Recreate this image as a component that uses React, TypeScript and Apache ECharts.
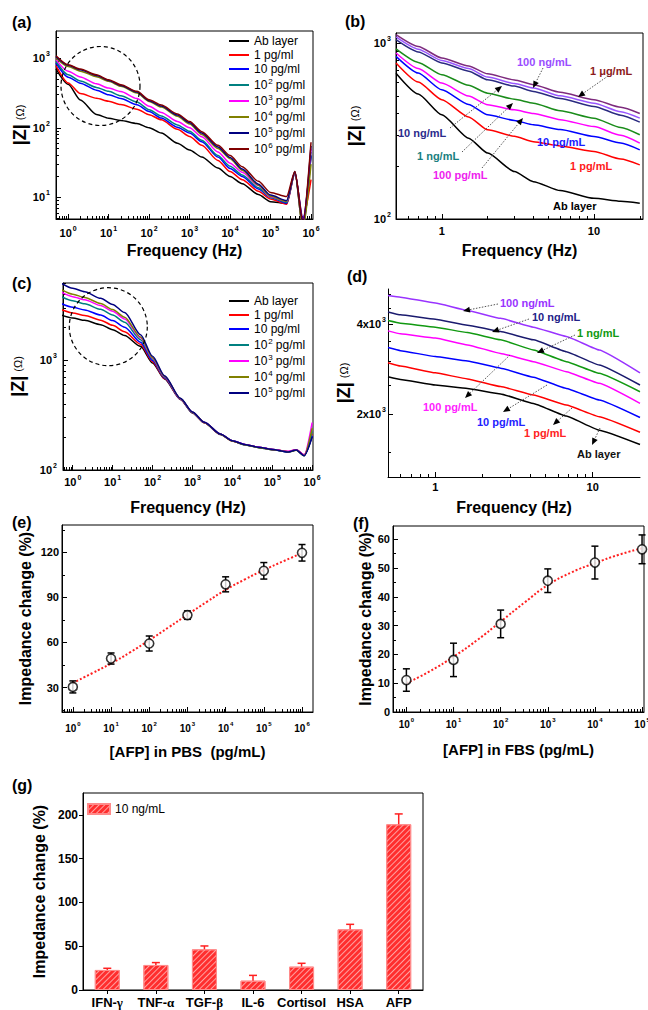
import React, { useEffect, useRef } from 'react';
import * as echarts from 'echarts';

const FONT = '"Liberation Sans", Arial, Helvetica, sans-serif';
const SERIF = '"Liberation Serif", "Times New Roman", serif';

// ---------------- (a) ----------------
const FREQ_A = [0.5, 1, 2, 5, 10, 20, 50, 100, 200, 500, 1e3, 2e3, 5e3, 1e4, 2e4, 5e4, 1e5, 2.5e5, 4e5, 6.3e5, 1e6];
const A_NAMES = ['Ab layer', '1 pg/ml', '10 pg/ml', '10^2 pg/ml', '10^3 pg/ml', '10^4 pg/ml', '10^5 pg/ml', '10^6 pg/ml'];
const A_AB = [700, 420, 250, 155, 137, 127, 115, 100, 84, 60, 48, 38, 26.5, 20, 15.7, 11, 8.7, 8.2, 23.5, 3.5, 40];
const A_1PG = [780, 440, 310, 265, 240, 215, 185, 154, 130, 95, 75, 56, 34, 23.5, 18, 12.3, 9.5, 8, 22, 5, 18];
const A_10PG = [850, 533, 437, 347, 297, 263, 214, 171, 138, 102, 84, 63, 38, 26, 20, 13.2, 10, 8.3, 22, 5, 40];
const A_1E2PG = [900, 576, 468, 380, 333, 288, 234, 181, 148, 110, 89, 66, 40, 28, 21, 13.8, 10, 8.5, 23, 4, 45];
const A_1E3PG = [950, 646, 537, 427, 371, 331, 263, 203, 166, 123, 100, 74, 45, 31, 23, 14.8, 10.2, 8.8, 23, 4, 50];
const A_1E4PG = [1000, 760, 650, 540, 465, 395, 315, 238, 198, 146, 113, 80, 50.5, 36, 24.5, 15, 10.4, 8.8, 22.5, 3.5, 30];
const A_1E5PG = [1050, 790, 680, 565, 478, 405, 325, 245, 205, 152, 118, 84, 53, 37.5, 25.5, 15.5, 10.8, 9, 23, 4.2, 55];
const A_1E6PG = [1080, 802, 695, 576, 488, 415, 333, 252, 212, 158, 123, 88, 56, 40, 27.5, 17, 11.8, 10.3, 23.5, 4.5, 62];

// ---------------- (b) ----------------
const FREQ_B = [0.5, 0.7, 1, 1.5, 2, 3, 4, 6, 10, 15, 20];
const B_NAMES = ['Ab layer', '1 pg/mL', '10 pg/mL', '100 pg/mL', '1 ng/mL', '10 ng/mL', '100 ng/mL', '1 μg/mL'];
const B_AB = [674, 513, 391, 288, 237, 186, 163, 145, 131, 126, 123];
const B_1PG = [770, 600, 476, 380, 321, 295, 275, 260, 242, 219, 203];
const B_10PG = [840, 675, 542, 447, 391, 363, 343, 322, 294, 270, 247];
const B_100PG = [877, 716, 592, 500, 446, 417, 398, 367, 335, 299, 270];
const B_1NG = [925, 776, 661, 575, 519, 479, 455, 412, 374, 331, 301];
const B_10NG = [1044, 890, 770, 692, 618, 569, 531, 484, 436, 389, 355];
const B_100NG = [1082, 922, 796, 716, 640, 589, 555, 501, 455, 407, 374];
const B_1UG = [1115, 955, 822, 741, 668, 617, 580, 525, 476, 431, 398];

// ---------------- (c) ----------------
const FREQ_C = [0.5, 1, 2, 5, 10, 20, 50, 100, 200, 500, 1e3, 2e3, 5e3, 1e4, 2e4, 5e4, 1e5, 2.5e5, 4e5, 6.3e5, 1e6];
const C_AB = [2600, 2430, 2310, 2110, 1900, 1680, 1340, 946, 676, 440, 331, 269, 211, 184, 171, 160, 154, 147, 153, 136, 204];
const C_1PG = [2910, 2700, 2560, 2320, 2080, 1820, 1400, 968, 684, 442, 333, 270, 212, 184, 171, 160, 154, 147, 153, 137, 215];
const C_10PG = [3300, 3040, 2870, 2580, 2300, 2000, 1460, 995, 693, 444, 334, 271, 212, 185, 171, 160, 154, 146, 152, 136, 205];
const C_1E2PG = [3830, 3490, 3270, 2910, 2580, 2220, 1540, 1026, 703, 446, 335, 272, 213, 185, 170, 159, 153, 146, 152, 135, 225];
const C_1E3PG = [4210, 3800, 3560, 3150, 2790, 2380, 1600, 1045, 711, 447, 336, 272, 213, 185, 171, 160, 154, 148, 153, 137, 270];
const C_1E4PG = [4440, 4000, 3730, 3290, 2900, 2470, 1630, 1057, 714, 448, 336, 271, 212, 184, 170, 159, 153, 146, 151, 135, 240];
const C_1E5PG = [5070, 4530, 4210, 3670, 3230, 2720, 1710, 1087, 724, 450, 338, 272, 213, 185, 171, 160, 154, 146, 152, 135, 200];

// ---------------- (d) ----------------
const FREQ_D = [0.5, 0.6, 1, 1.6, 2.6, 4.2, 6.8, 11, 20];
const D_NAMES = ['Ab layer', '1 pg/mL', '10 pg/mL', '100 pg/mL', '1 ng/mL', '10 ng/mL', '100 ng/mL'];
const D_AB = [2670, 2615, 2505, 2440, 2340, 2177, 1975, 1774, 1590];
const D_1PG = [2970, 2895, 2750, 2625, 2475, 2320, 2150, 1965, 1745];
const D_10PG = [3335, 3258, 3113, 3010, 2850, 2660, 2440, 2235, 1955];
const D_100PG = [3790, 3705, 3590, 3405, 3190, 2995, 2775, 2537, 2177];
const D_1NG = [4100, 4020, 3900, 3740, 3540, 3275, 2995, 2740, 2380];
const D_10NG = [4380, 4285, 4140, 3960, 3770, 3540, 3233, 2920, 2505];
const D_100NG = [4970, 4905, 4688, 4430, 4170, 3900, 3630, 3275, 2750];

// ---------------- (e) ----------------
const CONC_E = [1, 10, 100, 1e3, 1e4, 1e5, 1e6];
const E_MEAN = [30.4, 49.3, 59.3, 78.2, 98.7, 107.7, 119.7];
const E_ERR = [4, 3.7, 5, 2.8, 5, 5.5, 5.5];
const FIT_E_CONC = [1, 3.2, 10, 32, 100, 320, 1e3, 3.2e3, 1e4, 3.2e4, 1e5, 3.2e5, 1e6];
const FIT_E_VAL = [33, 39.5, 46, 53.5, 61.5, 70, 78.5, 87, 95, 102, 108.2, 114, 119.5];

// ---------------- (f) ----------------
const CONC_F = [1, 10, 100, 1e3, 1e4, 1e5];
const F_MEAN = [11.1, 18.1, 30.6, 45.6, 51.9, 56.5];
const F_ERR = [3.9, 5.8, 4.8, 4.1, 5.7, 5];
const FIT_F_CONC = [1, 3.2, 10, 32, 100, 320, 1e3, 3.2e3, 1e4, 3.2e4, 1e5];
const FIT_F_VAL = [10, 14.2, 19.2, 25, 31.4, 38, 44.1, 48.5, 51.7, 54.6, 56.9];

// ---------------- (g) ----------------
const G_CATS = ['IFN-γ', 'TNF-α', 'TGF-β', 'IL-6', 'Cortisol', 'HSA', 'AFP'];
const G_MEAN = [22.9, 28.6, 46.5, 10.7, 26.7, 69.3, 189.3];
const G_ERR = [1.9, 2.7, 3.8, 6, 3.8, 5.7, 11.8];

// ---------------- helpers ----------------
const lg = (v: number) => Math.log10(v);

function decades(min: number, max: number): number[] {
  const out: number[] = [];
  for (let e = Math.ceil(min - 1e-9); e <= max + 1e-9; e++) out.push(e);
  return out;
}
function logMinor(min: number, max: number): number[] {
  const out: number[] = [];
  for (let e = Math.floor(min) - 1; e <= Math.ceil(max); e++) {
    for (let k = 2; k <= 9; k++) {
      const v = e + Math.log10(k);
      if (v > min + 1e-6 && v < max - 1e-6) out.push(v);
    }
  }
  return out;
}
function steps(a: number, b: number, s: number): number[] {
  const out: number[] = [];
  for (let v = a; v <= b + 1e-9; v += s) out.push(v);
  return out;
}

const tickRich = (fs: number, sfs: number) => ({
  b: { fontSize: fs, fontWeight: 'bold', fontFamily: FONT, color: '#000', lineHeight: fs + 5 },
  s: { fontSize: sfs, fontWeight: 'bold', fontFamily: FONT, color: '#000', verticalAlign: 'top', lineHeight: sfs + 1, padding: [0, 0, 0, 1] },
});
const supFmt = (v: number) => `{b|10}{s|${Math.round(v)}}`;
const plainPowFmt = (v: number) => String(Math.round(Math.pow(10, v)));

const Z_NAME = '{z||Z|}{o|(Ω)}';
const zNameStyle = {
  rich: {
    z: { fontSize: 18, fontWeight: 'bold', fontFamily: FONT, color: '#000' },
    o: { fontSize: 11, fontFamily: FONT, color: '#000', padding: [0, 0, 0, 4] },
  },
};
const freqNameStyle = { fontSize: 16, fontWeight: 'bold', fontFamily: FONT, color: '#000' };
const impNameStyle = { fontSize: 16, fontWeight: 'bold', fontFamily: FONT, color: '#000' };
const afpNameStyle = { fontSize: 15, fontWeight: 'bold', fontFamily: FONT, color: '#000' };

interface AxOpt {
  grid: number;
  dim: 'x' | 'y';
  min: number;
  max: number;
  major: number[];
  minor?: number[];
  fmt?: (v: number) => string;
  labelSize?: number;
  supSize?: number;
  margin?: number;
  name?: string;
  nameGap?: number;
  nameStyle?: any;
}

const supLegend = (name: string) => {
  const m = name.match(/^(\d+)\^(\d+)\s(.*)$/);
  if (m) return `{m|${m[1]}}{s|${m[2]}}{m|${m[3]}}`;
  return `{n|${name}}`;
};
const legendText = {
  fontSize: 12,
  fontFamily: FONT,
  color: '#000',
  rich: {
    n: { fontSize: 12, fontFamily: FONT, color: '#000', lineHeight: 13 },
    m: { fontSize: 12, fontFamily: FONT, color: '#000', lineHeight: 16 },
    s: { fontSize: 8, fontFamily: FONT, color: '#000', verticalAlign: 'top', lineHeight: 9, padding: [0, 3, 0, 1] },
  },
};

function txt(x: number, y: number, text: string, fill: string, size: number, weight = 'bold', align = 'left') {
  return {
    type: 'text',
    x,
    y,
    z: 20,
    silent: true,
    style: {
      text,
      x: 0,
      y: 0,
      fill,
      fontSize: size,
      fontWeight: weight,
      fontFamily: FONT,
      align,
      textAlign: align,
      verticalAlign: 'middle',
      textVerticalAlign: 'middle',
    },
  };
}
function arrow(x1: number, y1: number, x2: number, y2: number) {
  const ang = Math.atan2(y2 - y1, x2 - x1);
  const c = Math.cos(ang);
  const s = Math.sin(ang);
  const len = 7;
  const w = 3;
  const bx = x2 - len * c;
  const by = y2 - len * s;
  return [
    {
      type: 'line',
      z: 20,
      silent: true,
      shape: { x1, y1, x2: bx, y2: by },
      style: { stroke: '#555', lineWidth: 1, lineDash: [1.5, 1.5] },
    },
    {
      type: 'polygon',
      z: 20,
      silent: true,
      shape: { points: [[x2, y2], [bx - s * w, by + c * w], [bx + s * w, by - c * w]] },
      style: { fill: '#000' },
    },
  ];
}

function buildOption() {
  const xAxis: any[] = [];
  const yAxis: any[] = [];
  const series: any[] = [];

  function addAxis(o: AxOpt): number {
    const list = o.dim === 'x' ? xAxis : yAxis;
    const idx = list.length;
    const position = o.dim === 'x' ? 'bottom' : 'left';
    const fs = o.labelSize ?? 11;
    list.push({
      type: 'value',
      gridIndex: o.grid,
      min: o.min,
      max: o.max,
      position,
      axisLine: { show: true, onZero: false, lineStyle: { color: '#000', width: 1 } },
      axisTick: { show: true, inside: true, length: 5, customValues: o.major, lineStyle: { color: '#000', width: 1 } },
      axisLabel: {
        show: true,
        customValues: o.major,
        formatter: o.fmt,
        margin: o.margin ?? 6,
        color: '#000',
        fontSize: fs,
        fontWeight: 'bold',
        fontFamily: FONT,
        rich: tickRich(fs, o.supSize ?? 7),
      },
      splitLine: { show: false },
      name: o.name,
      nameLocation: 'middle',
      nameGap: o.nameGap ?? 25,
      nameRotate: o.dim === 'y' ? 90 : 0,
      nameTextStyle: o.nameStyle,
    });
    if (o.minor && o.minor.length) {
      list.push({
        type: 'value',
        gridIndex: o.grid,
        min: o.min,
        max: o.max,
        position,
        axisLine: { show: false, onZero: false },
        axisTick: { show: true, inside: true, length: 3, customValues: o.minor, lineStyle: { color: '#000', width: 1 } },
        axisLabel: { show: false },
        splitLine: { show: false },
      });
    }
    return idx;
  }

  const line = (name: string, xs: number[], ys: number[], color: string, xi: number, yi: number, smooth: number) => ({
    type: 'line',
    name,
    xAxisIndex: xi,
    yAxisIndex: yi,
    data: xs.map((x, i) => [lg(x), lg(ys[i])]),
    showSymbol: false,
    symbol: 'none',
    smooth,
    smoothMonotone: 'x',
    color,
    itemStyle: { color },
    lineStyle: { color, width: 1.5 },
    z: 2,
    silent: true,
  });

  const errRenderer = (color: string, cap: number, lower: boolean) => (_p: any, api: any) => {
    const x = api.value(0);
    const lo = api.value(1);
    const hi = api.value(2);
    const a = api.coord([x, lo]);
    const b = api.coord([x, hi]);
    const st = { stroke: color, lineWidth: 1.5 };
    const children: any[] = [
      { type: 'line', shape: { x1: a[0], y1: a[1], x2: b[0], y2: b[1] }, style: st },
      { type: 'line', shape: { x1: b[0] - cap, y1: b[1], x2: b[0] + cap, y2: b[1] }, style: st },
    ];
    if (lower) children.push({ type: 'line', shape: { x1: a[0] - cap, y1: a[1], x2: a[0] + cap, y2: a[1] }, style: st });
    return { type: 'group', children };
  };

  const grid = [
    { left: 56, top: 31, width: 257, height: 188, show: true },
    { left: 396, top: 33, width: 247, height: 186, show: true },
    { left: 63, top: 283, width: 250, height: 187, show: true },
    { left: 388, top: 289, width: 252, height: 188, show: false },
    { left: 62, top: 525, width: 251, height: 187, show: true },
    { left: 393, top: 526, width: 251, height: 186, show: true },
    { left: 83, top: 793, width: 340, height: 197, show: true },
  ].map((g) => ({ ...g, borderColor: '#000', borderWidth: 1, backgroundColor: 'transparent', containLabel: false, outerBoundsMode: 'none' }));

  // ----- (a)
  const axMin = lg(0.5), axMax = lg(1.12e6);
  const ayMin = lg(4.9), ayMax = lg(2450);
  const ax = addAxis({ grid: 0, dim: 'x', min: axMin, max: axMax, major: decades(axMin, axMax), minor: logMinor(axMin, axMax), fmt: supFmt, margin: 6, name: 'Frequency (Hz)', nameGap: 23, nameStyle: freqNameStyle });
  const ay = addAxis({ grid: 0, dim: 'y', min: ayMin, max: ayMax, major: decades(ayMin, ayMax), minor: logMinor(ayMin, ayMax), fmt: supFmt, margin: 6, name: Z_NAME, nameGap: 27, nameStyle: zNameStyle });
  const A_COLORS = ['#000000', '#ff0000', '#0000ff', '#008080', '#ff00ff', '#808000', '#000080', '#800000'];
  [A_AB, A_1PG, A_10PG, A_1E2PG, A_1E3PG, A_1E4PG, A_1E5PG, A_1E6PG].forEach((d, i) =>
    series.push(line(A_NAMES[i], FREQ_A, d, A_COLORS[i], ax, ay, 0.25))
  );

  // ----- (b)
  const bxMin = lg(0.5), bxMax = lg(21);
  const byMin = 2, byMax = lg(1140);
  const bx = addAxis({ grid: 1, dim: 'x', min: bxMin, max: bxMax, major: [0, 1], minor: logMinor(bxMin, bxMax), fmt: plainPowFmt, margin: 6, name: 'Frequency (Hz)', nameGap: 23, nameStyle: freqNameStyle });
  const by = addAxis({ grid: 1, dim: 'y', min: byMin, max: byMax, major: [2, 3], minor: logMinor(byMin, byMax), fmt: supFmt, margin: 5, name: Z_NAME, nameGap: 32, nameStyle: zNameStyle });
  const B_COLORS = ['#000000', '#ff0000', '#0000ff', '#ff00ff', '#1a8c1a', '#2a2a80', '#9955ff', '#7d2a7d'];
  [B_AB, B_1PG, B_10PG, B_100PG, B_1NG, B_10NG, B_100NG, B_1UG].forEach((d, i) =>
    series.push(line('(b) ' + B_NAMES[i], FREQ_B, d, B_COLORS[i], bx, by, 0.2))
  );

  // ----- (c)
  const cxMin = lg(0.57), cxMax = lg(1.05e6);
  const cyMin = 2, cyMax = lg(5060);
  const cx = addAxis({ grid: 2, dim: 'x', min: cxMin, max: cxMax, major: decades(cxMin, cxMax), minor: logMinor(cxMin, cxMax), fmt: supFmt, margin: 4, name: 'Frequency (Hz)', nameGap: 29, nameStyle: freqNameStyle });
  const cy = addAxis({ grid: 2, dim: 'y', min: cyMin, max: cyMax, major: [2, 3], minor: logMinor(cyMin, cyMax), fmt: supFmt, margin: 6, name: Z_NAME, nameGap: 36, nameStyle: zNameStyle });
  [C_AB, C_1PG, C_10PG, C_1E2PG, C_1E3PG, C_1E4PG, C_1E5PG].forEach((d, i) =>
    series.push(line(A_NAMES[i], FREQ_C, d, A_COLORS[i], cx, cy, 0.25))
  );

  // ----- (d)
  const dxMin = lg(0.5), dxMax = lg(20);
  const dyMin = lg(1240), dyMax = lg(5220);
  const dx = addAxis({ grid: 3, dim: 'x', min: dxMin, max: dxMax, major: [0, 1], minor: logMinor(dxMin, dxMax), fmt: plainPowFmt, margin: 4, name: 'Frequency (Hz)', nameGap: 22, nameStyle: freqNameStyle });
  const dy = addAxis({
    grid: 3, dim: 'y', min: dyMin, max: dyMax,
    major: [lg(2000), lg(4000)],
    minor: [1500, 2500, 3000, 3500, 4500, 5000].map(lg),
    fmt: (v: number) => `{b|${Math.round(Math.pow(10, v) / 1000)}x10}{s|3}`,
    margin: 2, name: Z_NAME, nameGap: 21, nameStyle: zNameStyle,
  });
  const D_COLORS = ['#000000', '#ff0000', '#0000ff', '#ff00ff', '#119911', '#1a1a6e', '#9933ff'];
  [D_AB, D_1PG, D_10PG, D_100PG, D_1NG, D_10NG, D_100NG].forEach((d, i) =>
    series.push(line('(d) ' + D_NAMES[i], FREQ_D, d, D_COLORS[i], dx, dy, 0.1))
  );

  // ----- (e)
  const exMin = lg(0.52), exMax = lg(1.94e6);
  const ex = addAxis({ grid: 4, dim: 'x', min: exMin, max: exMax, major: decades(exMin, exMax), minor: logMinor(exMin, exMax), fmt: supFmt, labelSize: 10, supSize: 6, margin: 9, name: '[AFP] in PBS  (pg/mL)', nameGap: 32, nameStyle: afpNameStyle });
  const ey = addAxis({ grid: 4, dim: 'y', min: 13.7, max: 138.2, major: [30, 60, 90, 120], minor: [15, 45, 75, 105, 135], margin: 3, name: 'Impedance change (%)', nameGap: 29, nameStyle: impNameStyle });
  series.push({
    type: 'line', name: 'fit-e', xAxisIndex: ex, yAxisIndex: ey,
    data: FIT_E_CONC.map((c, i) => [lg(c), FIT_E_VAL[i]]),
    smooth: true, showSymbol: false, symbol: 'none',
    lineStyle: { color: '#ff2020', width: 2, type: 'dotted' }, z: 2, silent: true,
  });
  series.push({
    type: 'custom', name: 'err-e', xAxisIndex: ex, yAxisIndex: ey,
    renderItem: errRenderer('#000', 3.5, true),
    data: CONC_E.map((c, i) => [lg(c), E_MEAN[i] - E_ERR[i], E_MEAN[i] + E_ERR[i]]),
    encode: { x: 0, y: [1, 2] }, z: 3, silent: true,
  });
  series.push({
    type: 'scatter', name: 'pts-e', xAxisIndex: ex, yAxisIndex: ey,
    data: CONC_E.map((c, i) => [lg(c), E_MEAN[i]]),
    symbol: 'circle', symbolSize: 9,
    itemStyle: { color: '#fff', borderColor: '#000', borderWidth: 1.6 }, z: 4, silent: true,
  });

  // ----- (f)
  const fxMin = lg(0.52), fxMax = lg(1.1e5);
  const fx = addAxis({ grid: 5, dim: 'x', min: fxMin, max: fxMax, major: decades(fxMin, fxMax), minor: logMinor(fxMin, fxMax), fmt: supFmt, labelSize: 10, supSize: 6, margin: 5, name: '[AFP] in FBS (pg/mL)', nameGap: 30, nameStyle: afpNameStyle });
  const fy = addAxis({ grid: 5, dim: 'y', min: 0, max: 64.6, major: steps(0, 60, 10), minor: steps(5, 55, 10), margin: 3, name: 'Impedance change (%)', nameGap: 18, nameStyle: impNameStyle });
  series.push({
    type: 'line', name: 'fit-f', xAxisIndex: fx, yAxisIndex: fy,
    data: FIT_F_CONC.map((c, i) => [lg(c), FIT_F_VAL[i]]),
    smooth: true, showSymbol: false, symbol: 'none',
    lineStyle: { color: '#ff2020', width: 2, type: 'dotted' }, z: 2, silent: true,
  });
  series.push({
    type: 'custom', name: 'err-f', xAxisIndex: fx, yAxisIndex: fy,
    renderItem: errRenderer('#000', 3.5, true),
    data: CONC_F.map((c, i) => [lg(c), F_MEAN[i] - F_ERR[i], F_MEAN[i] + F_ERR[i]]),
    encode: { x: 0, y: [1, 2] }, z: 3, silent: true,
  });
  series.push({
    type: 'scatter', name: 'pts-f', xAxisIndex: fx, yAxisIndex: fy,
    data: CONC_F.map((c, i) => [lg(c), F_MEAN[i]]),
    symbol: 'circle', symbolSize: 9,
    itemStyle: { color: '#fff', borderColor: '#000', borderWidth: 1.6 }, z: 4, silent: true,
  });

  // ----- (g)
  const gx = xAxis.length;
  xAxis.push({
    type: 'category',
    gridIndex: 6,
    data: G_CATS,
    position: 'bottom',
    axisLine: { show: true, onZero: false, lineStyle: { color: '#000', width: 1 } },
    axisTick: { show: true, alignWithLabel: true, inside: false, length: 4, lineStyle: { color: '#000' } },
    axisLabel: {
      interval: 0,
      margin: 5,
      color: '#000',
      fontSize: 13,
      fontWeight: 'bold',
      fontFamily: FONT,
      lineHeight: 14,
      formatter: (v: string) => {
        const m = v.match(/^(.*?)([αβγ])$/);
        return m ? `{b|${m[1]}}{g|${m[2]}}` : `{b|${v}}`;
      },
      rich: {
        b: { fontSize: 13, fontWeight: 'bold', fontFamily: FONT, color: '#000', lineHeight: 14 },
        g: { fontSize: 13, fontWeight: 'bold', fontFamily: SERIF, color: '#000', lineHeight: 14 },
      },
    },
    splitLine: { show: false },
  });
  const gy = yAxis.length;
  yAxis.push({
    type: 'value',
    gridIndex: 6,
    min: 0,
    max: 225,
    position: 'left',
    axisLine: { show: true, onZero: false, lineStyle: { color: '#000', width: 1 } },
    axisTick: { show: true, inside: false, length: 4, customValues: [0, 50, 100, 150, 200], lineStyle: { color: '#000' } },
    axisLabel: { customValues: [0, 50, 100, 150, 200], margin: 5, color: '#000', fontSize: 12, fontWeight: 'bold', fontFamily: FONT },
    splitLine: { show: false },
    name: 'Impedance change (%)',
    nameLocation: 'middle',
    nameGap: 30,
    nameRotate: 90,
    nameTextStyle: impNameStyle,
  });
  const decal = {
    symbol: 'rect',
    symbolSize: 1,
    color: 'rgba(255,255,255,0.55)',
    dashArrayX: [1, 0],
    dashArrayY: [1, 3],
    rotation: -Math.PI / 4,
  };
  series.push({
    type: 'bar',
    name: '10 ng/mL',
    xAxisIndex: gx,
    yAxisIndex: gy,
    data: G_MEAN,
    barWidth: 25,
    itemStyle: { color: '#ff2e2e', borderColor: '#ff8a8a', borderWidth: 1, decal },
    z: 2,
    silent: true,
  });
  series.push({
    type: 'custom', name: 'err-g', xAxisIndex: gx, yAxisIndex: gy,
    renderItem: errRenderer('#ff2020', 4, false),
    data: G_MEAN.map((m, i) => [i, m, m + G_ERR[i]]),
    encode: { x: 0, y: [1, 2] }, z: 3, silent: true,
  });

  // ----- annotations
  const graphic: any[] = [
    txt(12, 22, '(a)', '#000', 16),
    txt(345, 21, '(b)', '#000', 16),
    txt(12, 283, '(c)', '#000', 16),
    txt(347, 276, '(d)', '#000', 16),
    txt(12, 522, '(e)', '#000', 16),
    txt(353, 523, '(f)', '#000', 16),
    txt(12, 785, '(g)', '#000', 16),
    { type: 'circle', z: 15, silent: true, shape: { cx: 100.5, cy: 86, r: 39.5 }, style: { fill: 'none', stroke: '#000', lineWidth: 1.2, lineDash: [4, 3] } },
    { type: 'circle', z: 15, silent: true, shape: { cx: 108.3, cy: 326.7, r: 39 }, style: { fill: 'none', stroke: '#000', lineWidth: 1.2, lineDash: [4, 3] } },
    // (b)
    txt(517, 62, '100 ng/mL', '#9a4dff', 11),
    txt(590, 71, '1 μg/mL', '#8b1a1a', 11),
    txt(398, 133, '10 ng/mL', '#2b2b8c', 11),
    txt(417, 156, '1 ng/mL', '#1a8080', 11),
    txt(433, 175, '100 pg/mL', '#ee22ee', 11),
    txt(537, 142, '10 pg/mL', '#1a1aff', 11),
    txt(570, 166, '1 pg/mL', '#ff1a1a', 11),
    txt(553, 206, 'Ab layer', '#000', 11),
    ...arrow(543, 68, 533, 88),
    ...arrow(608, 76, 578, 97),
    ...arrow(450, 128, 502, 86),
    ...arrow(462, 152, 513, 103),
    ...arrow(482, 168, 523, 118),
    // (d)
    txt(500, 303, '100 ng/mL', '#9933ff', 11),
    txt(532, 317, '10 ng/mL', '#222288', 11),
    txt(577, 333, '1 ng/mL', '#119911', 11),
    txt(423, 407, '100 pg/mL', '#ff22ff', 11),
    txt(477, 422, '10 pg/mL', '#2222ff', 11),
    txt(524, 433, '1 pg/mL', '#ff2222', 11),
    txt(577, 454, 'Ab layer', '#111', 11),
    ...arrow(498, 304, 463, 311),
    ...arrow(529, 319, 492, 332),
    ...arrow(575, 335, 537, 353),
    ...arrow(510, 355, 465, 398),
    ...arrow(547, 385, 503, 412),
    ...arrow(572, 408, 553, 425),
    ...arrow(600, 428, 592, 445),
  ];

  return {
    animation: false,
    backgroundColor: '#fff',
    textStyle: { fontFamily: FONT },
    grid,
    xAxis,
    yAxis,
    series,
    legend: [
      {
        left: 229, top: 35, orient: 'vertical', icon: 'rect', itemWidth: 20, itemHeight: 2, itemGap: 2,
        padding: 0, selectedMode: false, data: A_NAMES, formatter: supLegend, textStyle: legendText,
      },
      {
        left: 229, top: 295, orient: 'vertical', icon: 'rect', itemWidth: 20, itemHeight: 2, itemGap: 2,
        padding: 0, selectedMode: false, data: A_NAMES.slice(0, 7), formatter: supLegend, textStyle: legendText,
      },
      {
        left: 87, top: 803, orient: 'vertical', icon: 'rect', itemWidth: 22, itemHeight: 10,
        padding: 0, selectedMode: false, data: ['10 ng/mL'], textStyle: { fontSize: 12, fontFamily: FONT, color: '#000' },
      },
    ],
    graphic,
  };
}

export default function App() {
  const ref = useRef<HTMLDivElement>(null);
  useEffect(() => {
    document.body.style.margin = '0';
    const chart = echarts.init(ref.current as HTMLDivElement, undefined, { renderer: 'svg' });
    chart.setOption(buildOption() as any);
    return () => chart.dispose();
  }, []);
  return <div ref={ref} style={{ width: 648, height: 1010, background: '#fff' }} />;
}
